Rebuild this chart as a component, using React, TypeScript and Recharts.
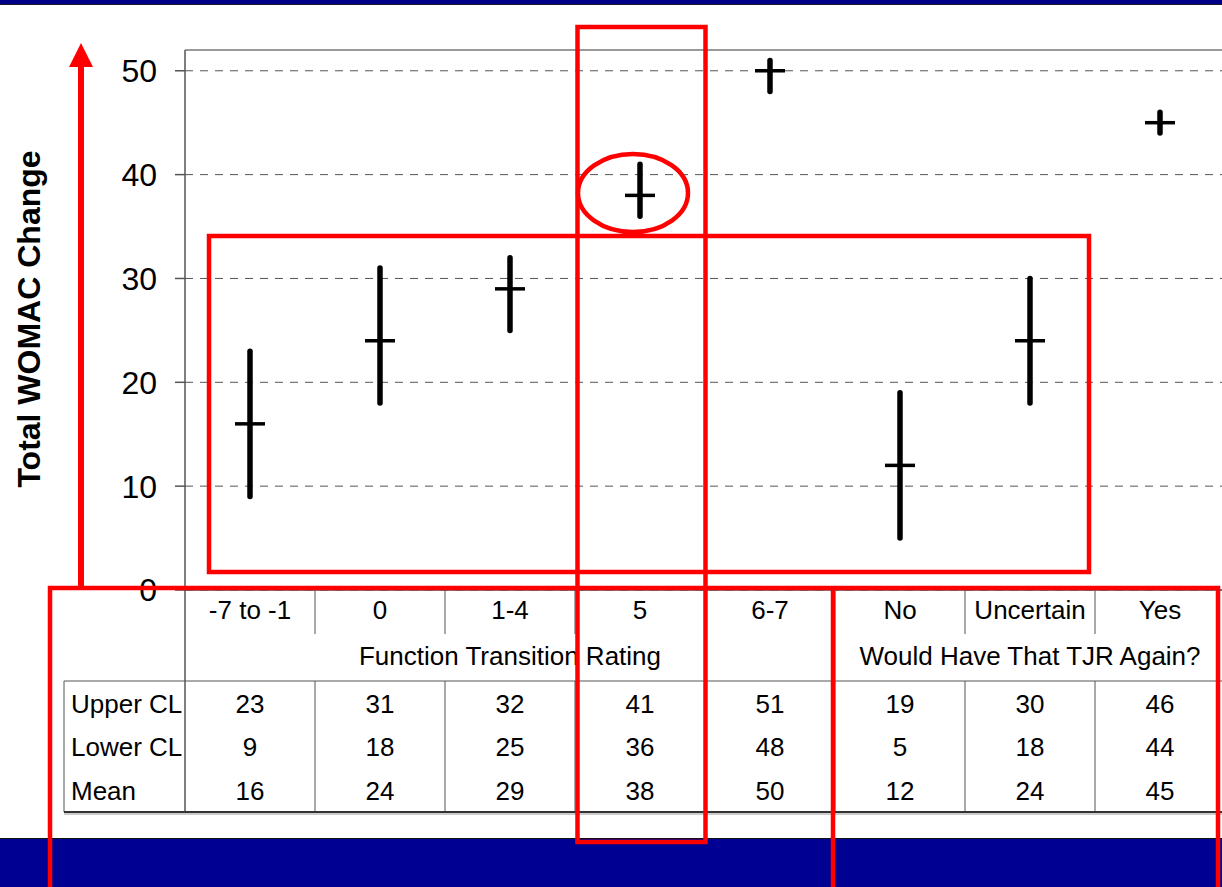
import React from 'react';
import { ComposedChart, Bar, Line, XAxis, YAxis, CartesianGrid, ReferenceLine } from 'recharts';

const categories = ['-7 to -1', '0', '1-4', '5', '6-7', 'No', 'Uncertain', 'Yes'];
const upperCL = [23, 31, 32, 41, 51, 19, 30, 46];
const lowerCL = [9, 18, 25, 36, 48, 5, 18, 44];
const means = [16, 24, 29, 38, 50, 12, 24, 45];
const yTicks = [0, 10, 20, 30, 40, 50];
const groupLabels = ['Function Transition Rating', 'Would Have That TJR Again?'];
const groupSpans = [5, 3];
const rowLabels = ['Upper CL', 'Lower CL', 'Mean'];

const data = categories.map((category, i) => ({
  category,
  range: [lowerCL[i], upperCL[i]],
  mean: means[i],
}));
const rowValues = [upperCL, lowerCL, means];

// layout: the plot area starts at 185 and each category gets 130px
const FONT = '"Liberation Sans", Arial, Helvetica, sans-serif';
const PLOT_LEFT = 185;
const COL_W = 130;
const AXIS_Y = 590;
const RED = '#ff0000';
const LINE = '#555';
const TABLE_FS = 26;

function CategoryTick(props: any) {
  const { x, y, payload, index } = props;
  const half = payload?.offset ?? COL_W / 2;
  return (
    <g>
      <text x={x} y={y + 20} textAnchor="middle" dominantBaseline="central" fontSize={TABLE_FS} fontFamily={FONT} fill="#000">
        {payload.value}
      </text>
      {index < categories.length - 1 && (
        <line x1={x + half} x2={x + half} y1={y} y2={y + 44} stroke={LINE} strokeWidth={1} />
      )}
    </g>
  );
}

function RangeStick(props: any) {
  const { x, y, width, height } = props;
  const cx = x + width / 2;
  return <line x1={cx} x2={cx} y1={y} y2={y + height} stroke="#000" strokeWidth={5.5} strokeLinecap="round" />;
}

function MeanTick(props: any) {
  const { cx, cy, index } = props;
  return <line key={index} x1={cx - 15} x2={cx + 15} y1={cy} y2={cy} stroke="#000" strokeWidth={3.5} />;
}

function DataTable() {
  const colX = (i: number) => PLOT_LEFT + COL_W * i;
  const rowsY = [704, 747, 791];
  let start = 0;
  return (
    <svg width={1222} height={887} style={{ position: 'absolute', left: 0, top: 0 }}>
      {groupLabels.map((label, g) => {
        const from = start;
        start += groupSpans[g];
        const cx = (colX(from) + colX(from + groupSpans[g])) / 2;
        return (
          <g key={label}>
            <text x={cx} y={656} textAnchor="middle" dominantBaseline="central" fontSize={TABLE_FS} fontFamily={FONT}>
              {label}
            </text>
            {g > 0 && <line x1={colX(from)} x2={colX(from)} y1={634} y2={681} stroke={LINE} />}
          </g>
        );
      })}
      <line x1={PLOT_LEFT} x2={PLOT_LEFT} y1={AXIS_Y} y2={812} stroke={LINE} strokeWidth={1.5} />
      <line x1={64} x2={1222} y1={681} y2={681} stroke={LINE} />
      <line x1={64} x2={64} y1={681} y2={812} stroke={LINE} />
      {categories.slice(1).map((_, i) => (
        <line key={i} x1={colX(i + 1)} x2={colX(i + 1)} y1={681} y2={812} stroke={LINE} />
      ))}
      <line x1={64} x2={1222} y1={812} y2={812} stroke="#333" strokeWidth={2} />
      <line x1={64} x2={1222} y1={814} y2={814} stroke="#bbb" strokeWidth={1.5} />
      {rowLabels.map((label, r) => (
        <g key={label}>
          <text x={71} y={rowsY[r]} dominantBaseline="central" fontSize={TABLE_FS} fontFamily={FONT}>
            {label}
          </text>
          {rowValues[r].map((v, i) => (
            <text key={i} x={colX(i) + COL_W / 2} y={rowsY[r]} textAnchor="middle" dominantBaseline="central" fontSize={TABLE_FS} fontFamily={FONT}>
              {v}
            </text>
          ))}
        </g>
      ))}
    </svg>
  );
}

function Annotations() {
  return (
    <svg width={1222} height={887} style={{ position: 'absolute', left: 0, top: 0, pointerEvents: 'none' }}>
      <text
        x={0}
        y={0}
        transform="translate(29 319) rotate(-90)"
        textAnchor="middle"
        dominantBaseline="central"
        fontSize={32}
        fontWeight="bold"
        fontFamily={FONT}
      >
        Total WOMAC Change
      </text>
      <line x1={81} x2={81} y1={64} y2={588} stroke={RED} strokeWidth={6} />
      <polygon points="81,43 69,67 93,67" fill={RED} />
      <polyline points="50,887 50,588 1218,588 1218,887" fill="none" stroke={RED} strokeWidth={4.5} />
      <line x1={833} x2={833} y1={588} y2={887} stroke={RED} strokeWidth={4.5} />
      <rect x={577.5} y={27} width={128} height={815} fill="none" stroke={RED} strokeWidth={4.5} />
      <rect x={209} y={236} width={880} height={336} fill="none" stroke={RED} strokeWidth={4.5} />
      <ellipse cx={633} cy={193} rx={55} ry={39} fill="none" stroke={RED} strokeWidth={4.5} />
    </svg>
  );
}

export default function App() {
  return (
    <div
      style={{
        position: 'absolute',
        left: 0,
        top: 0,
        width: 1222,
        height: 887,
        overflow: 'hidden',
        background: '#fff',
        fontFamily: FONT,
      }}
    >
      <div style={{ position: 'absolute', left: 0, top: 0, width: 1222, height: 4, background: '#000088', borderBottom: '1px solid #1c1c2c' }} />
      <div style={{ position: 'absolute', left: 0, top: 0 }}>
        <ComposedChart width={1225} height={640} data={data} margin={{ top: 50, right: 0, left: 85, bottom: 6 }}>
          <CartesianGrid vertical={false} stroke="#555" strokeDasharray="8 7" />
          <XAxis
            dataKey="category"
            interval={0}
            height={44}
            tickLine={false}
            tickSize={0}
            tickMargin={0}
            axisLine={{ stroke: LINE, strokeWidth: 1.5 }}
            tick={<CategoryTick />}
          />
          <YAxis
            domain={[0, 52]}
            ticks={yTicks}
            width={100}
            tickSize={10}
            tickMargin={18}
            axisLine={{ stroke: LINE, strokeWidth: 1.5 }}
            tickLine={{ stroke: LINE, strokeWidth: 1.5 }}
            tick={{ fontSize: 32, fill: '#000', fontFamily: FONT }}
          />
          <ReferenceLine y={52} stroke="#999" strokeWidth={2} />
          <Bar dataKey="range" barSize={10} shape={<RangeStick />} isAnimationActive={false} />
          <Line dataKey="mean" stroke="none" dot={<MeanTick />} activeDot={false} isAnimationActive={false} />
        </ComposedChart>
      </div>
      <DataTable />
      <div style={{ position: 'absolute', left: 0, top: 838, width: 1222, height: 49, background: '#000092', borderTop: '1px solid #111' }} />
      <Annotations />
    </div>
  );
}
